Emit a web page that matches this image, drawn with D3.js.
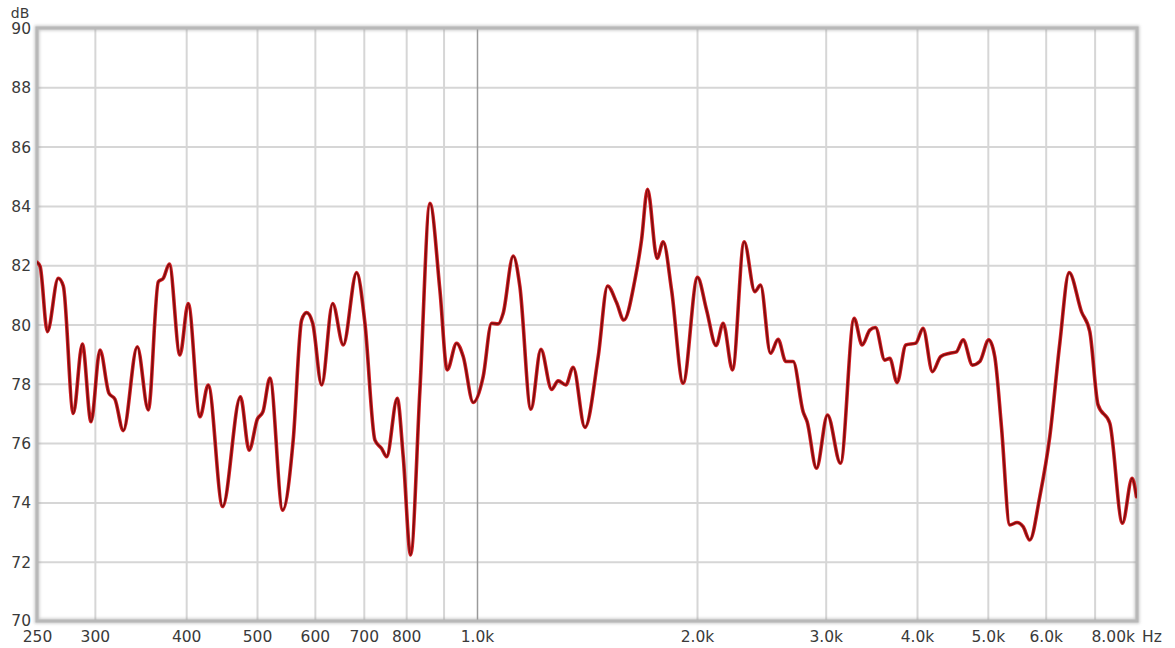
<!DOCTYPE html>
<html>
<head>
<meta charset="utf-8">
<script src="https://cdn.jsdelivr.net/npm/d3@7"></script>
<style>
  html, body { margin: 0; padding: 0; background: #fff; }
  svg { display: block; }
  .tick text { font-family: "DejaVu Sans", sans-serif; font-size: 15.5px; fill: #3a3a3a; }
  .domain { display: none; }
</style>
</head>
<body>
<svg id="chart" width="1175" height="648"></svg>
<script>
// Frequency response, smoothed magnitude in dB
const freqHz = [250, 252.5, 258.3, 267.3, 271.6, 280.3, 288.4, 296.4, 304.9, 313.6, 319.6, 328.1,
  342.9, 355.0, 366.4, 372.2, 379.3, 392.2, 402.6, 417.8, 428.8, 448.7, 474.6, 487.8, 500.6,
  509.5, 520.8, 542.1, 560.4, 575.5, 584.6, 595.9, 613.0, 634.6, 656.1, 684.4, 702.5, 725.0,
  740.4, 752.3, 777.8, 792.6, 811.3, 835.4, 862.1, 889.7, 910.4, 937.7, 957.5, 988.2, 1019.6,
  1047.0, 1069.1, 1086.0, 1120.9, 1144.6, 1185.1, 1223.1, 1264.9, 1291.4, 1323.2, 1354.0,
  1404.9, 1465.1, 1509.0, 1552.2, 1588.3, 1644.5, 1679.3, 1711.3, 1764.1, 1797.8, 1846.0,
  1914.4, 2003.2, 2060.7, 2124.3, 2171.8, 2236.8, 2320.2, 2400.0, 2443.1, 2521.3, 2582.5,
  2645.8, 2707.5, 2794.0, 2829.8, 2914.3, 3017.3, 3143.5, 3281.3, 3364.8, 3447.3, 3509.5,
  3614.3, 3671.5, 3756.8, 3861.3, 3984.8, 4076.8, 4199.5, 4311.0, 4435.5, 4529.5, 4625.5,
  4763.8, 4874.5, 5014.5, 5110.3, 5219.5, 5358.3, 5482.0, 5587.8, 5706.3, 5889.3, 6078.0,
  6272.8, 6459.5, 6716.3, 6894.3, 7076.3, 7343.0, 7641.5, 7877.0, 7986.8];

const levelDb = [82.1, 81.95, 79.76, 81.56, 81.3, 77.0, 79.34, 76.72, 79.14, 77.68, 77.48, 76.42,
  79.25, 77.12, 81.44, 81.56, 82.04, 78.97, 80.71, 76.89, 77.96, 73.86, 77.56, 75.76, 76.81,
  77.06, 78.19, 73.74, 76.1, 80.15, 80.4, 80.04, 77.96, 80.71, 79.31, 81.75, 80.04, 76.1,
  75.82, 75.54, 77.51, 75.54, 72.23, 77.79, 84.09, 81.16, 78.47, 79.37, 78.92, 77.37, 78.24,
  80.04, 80.02, 80.38, 82.31, 81.28, 77.14, 79.16, 77.81, 78.1, 77.96, 78.56,
  76.53, 78.92, 81.3, 80.74, 80.15, 81.5, 82.85, 84.56, 82.23, 82.79, 81.16,
  78.02, 81.59, 80.5, 79.29, 80.04, 78.47, 82.79, 81.11, 81.33, 79.03, 79.5,
  78.75, 78.75, 77.06, 76.72, 75.15, 76.95, 75.32, 80.21, 79.31, 79.81, 79.9,
  78.8, 78.86, 78.04, 79.31, 79.37, 79.87, 78.41, 78.92, 79.03, 79.08, 79.48,
  78.63, 78.75, 79.48, 78.92, 76.55, 73.24, 73.32, 73.18, 72.73, 74.19, 76.22,
  79.37, 81.75, 80.43, 79.76, 77.29, 76.67, 73.3, 74.81, 74.19];

// Axis ticks
const xGridHz = [300, 400, 500, 600, 700, 800, 900, 1000, 2000, 3000, 4000, 5000, 6000, 7000];
const xTickHz = [250, 300, 400, 500, 600, 700, 800, 1000, 2000, 3000, 4000, 5000, 6000];
const xTickLabels = ["250", "300", "400", "500", "600", "700", "800", "1.0k", "2.0k", "3.0k", "4.0k", "5.0k", "6.0k"];
const xEndLabel = "8.00k";
const xUnit = "Hz";
const yTicks = [70, 72, 74, 76, 78, 80, 82, 84, 86, 88, 90];
const yUnit = "dB";

const plotLeft = 37, plotRight = 1137, plotTop = 28, plotBottom = 621;
const svg = d3.select("#chart");

const x = d3.scaleLog().domain([250, 8000]).range([plotLeft, plotRight]);
const y = d3.scaleLinear().domain([70, 90]).range([plotBottom, plotTop]);

const defs = svg.append("defs");
const shadow = defs.append("filter").attr("id", "frameShadow")
  .attr("x", "-5%").attr("y", "-5%").attr("width", "110%").attr("height", "110%");
shadow.append("feGaussianBlur").attr("stdDeviation", 1.6);

defs.append("clipPath").attr("id", "plotClip")
  .append("rect").attr("x", plotLeft).attr("y", plotTop)
  .attr("width", plotRight - plotLeft).attr("height", plotBottom - plotTop);

// Horizontal grid
svg.append("g")
  .attr("transform", `translate(${plotLeft},0)`)
  .call(d3.axisLeft(y).tickValues(yTicks.slice(1, -1)).tickSize(-(plotRight - plotLeft)).tickFormat(""))
  .call(g => g.selectAll(".tick line").attr("stroke", "#d6d6d6").attr("stroke-width", 2));

// Vertical grid
svg.append("g")
  .attr("transform", `translate(0,${plotBottom})`)
  .call(d3.axisBottom(x).tickValues(xGridHz).tickSize(-(plotBottom - plotTop)).tickFormat(""))
  .call(g => g.selectAll(".tick line")
    .attr("stroke", d => d === 1000 ? "#9a9a9a" : "#d6d6d6")
    .attr("stroke-width", d => d === 1000 ? 1.5 : 2));

// Plot frame with soft shadow
svg.append("rect")
  .attr("x", plotLeft).attr("y", plotTop)
  .attr("width", plotRight - plotLeft).attr("height", plotBottom - plotTop)
  .attr("fill", "none").attr("stroke", "#9c9c9c").attr("stroke-width", 5)
  .attr("opacity", 0.55).attr("filter", "url(#frameShadow)");
svg.append("rect")
  .attr("x", plotLeft).attr("y", plotTop)
  .attr("width", plotRight - plotLeft).attr("height", plotBottom - plotTop)
  .attr("fill", "none").attr("stroke", "#b8b8b8").attr("stroke-width", 3);

// Response curve
const line = d3.line()
  .x(d => x(d[0]))
  .y(d => y(d[1]))
  .curve(d3.curveMonotoneX);
const pts = freqHz.map((f, i) => [f, levelDb[i]]);

const curve = svg.append("g").attr("clip-path", "url(#plotClip)");
curve.append("path").datum(pts).attr("d", line)
  .attr("fill", "none").attr("stroke", "#d11f24").attr("stroke-width", 3.6)
  .attr("stroke-linejoin", "round").attr("stroke-linecap", "round");
curve.append("path").datum(pts).attr("d", line)
  .attr("fill", "none").attr("stroke", "#7a0d0d").attr("stroke-width", 1.6)
  .attr("stroke-linejoin", "round").attr("stroke-linecap", "round");

// Y axis labels
svg.append("g")
  .attr("transform", `translate(${plotLeft - 6},0)`)
  .call(d3.axisLeft(y).tickValues(yTicks).tickSize(0).tickPadding(0).tickFormat(d3.format("d")))
  .call(g => g.selectAll(".tick text").attr("dy", d => d === 70 ? "0.28em" : "0.36em"));

svg.append("text")
  .attr("x", 20).attr("y", 18)
  .attr("text-anchor", "middle")
  .attr("font-family", "DejaVu Sans, sans-serif").attr("font-size", 14).attr("fill", "#3a3a3a")
  .text(yUnit);

// X axis labels
const xLabelMap = new Map(xTickHz.map((v, i) => [v, xTickLabels[i]]));
svg.append("g")
  .attr("transform", `translate(0,${plotBottom})`)
  .call(d3.axisBottom(x).tickValues(xTickHz).tickSize(0).tickPadding(10).tickFormat(d => xLabelMap.get(d)));

svg.append("text")
  .attr("x", plotRight - 2).attr("y", plotBottom + 21)
  .attr("text-anchor", "end")
  .attr("font-family", "DejaVu Sans, sans-serif").attr("font-size", 15.5).attr("fill", "#3a3a3a")
  .text(xEndLabel);
svg.append("text")
  .attr("x", plotRight + 5).attr("y", plotBottom + 21)
  .attr("font-family", "DejaVu Sans, sans-serif").attr("font-size", 15.5).attr("fill", "#3a3a3a")
  .text(xUnit);
</script>
</body>
</html>
